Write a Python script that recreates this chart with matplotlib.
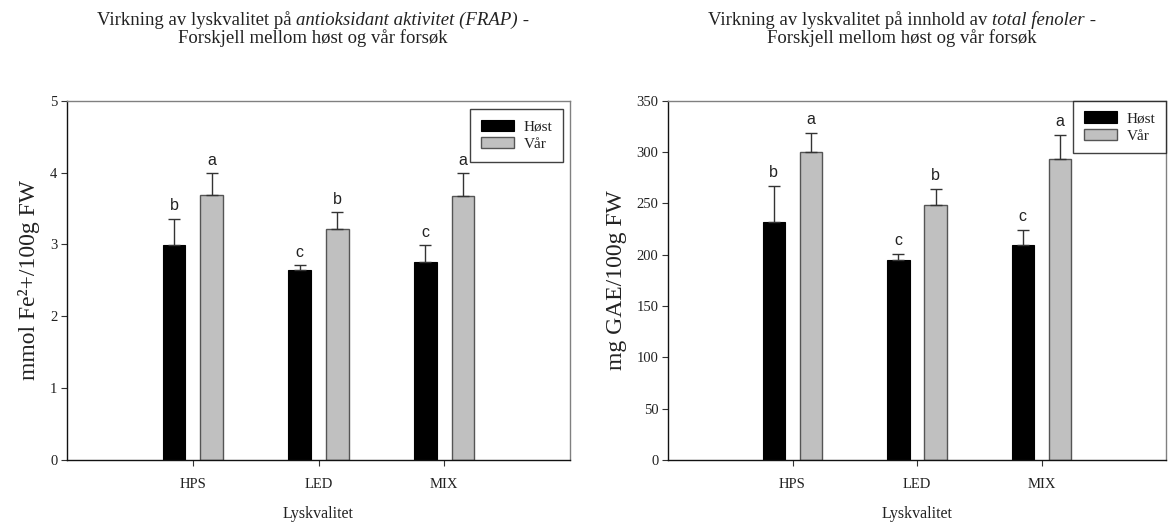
import matplotlib
matplotlib.use("Agg")
import matplotlib.pyplot as plt
import numpy as np

plt.rcParams['font.family'] = ['Liberation Serif', 'DejaVu Serif']

# Treatments (light quality)
categories = ["HPS", "LED", "MIX"]
seasons = ["Høst", "Vår"]

# Antioxidant activity (FRAP), mmol Fe2+/100 g FW
frap_host = [2.99, 2.65, 2.76]
frap_host_err = [0.37, 0.06, 0.23]
frap_var = [3.69, 3.22, 3.68]
frap_var_err = [0.30, 0.23, 0.31]
frap_letters_host = ["b", "c", "c"]
frap_letters_var = ["a", "b", "a"]

# Total phenolics, mg GAE/100 g FW
phen_host = [232, 195, 209]
phen_host_err = [35, 6, 15]
phen_var = [300, 248, 293]
phen_var_err = [19, 16, 24]
phen_letters_host = ["b", "c", "c"]
phen_letters_var = ["a", "b", "a"]

HOST_COLOR = "#000000"
VAR_COLOR = "#c0c0c0"
EDGE = "#555555"
TXT = "#222222"

fig = plt.figure(figsize=(11.7, 5.24), dpi=100)
W, H = 1170, 524


def axes_px(left, right, top, bottom):
    return fig.add_axes([left / W, 1 - bottom / H, (right - left) / W, (bottom - top) / H])


def draw_panel(ax, host, host_err, var, var_err, lh, lv, ylim, yticks, ylabel, legend_anchor):
    x = np.arange(len(categories))
    off, bw = 0.15, 0.18
    b1 = ax.bar(x - off, host, bw, color=HOST_COLOR, edgecolor=HOST_COLOR, linewidth=0.8,
                label=seasons[0], zorder=2)
    b2 = ax.bar(x + off, var, bw, color=VAR_COLOR, edgecolor=EDGE, linewidth=1.0,
                label=seasons[1], zorder=2)
    for xs, vals, errs, letters in ((x - off, host, host_err, lh), (x + off, var, var_err, lv)):
        ax.errorbar(xs, vals, yerr=[np.zeros(len(vals)), errs], fmt="none",
                    ecolor="#333333", elinewidth=1.0, capsize=4, capthick=1.0, zorder=3)
        for xi, v, e, t in zip(xs, vals, errs, letters):
            ax.annotate(t, (xi, v + e), xytext=(0, 4), textcoords="offset points",
                        ha="center", va="bottom", fontsize=11.5, color=TXT,
                        family=["Liberation Sans", "DejaVu Sans"])
    ax.set_xlim(-1, 3)
    ax.set_ylim(*ylim)
    ax.set_xticks(x)
    ax.set_xticklabels(categories)
    ax.set_yticks(yticks)
    ax.tick_params(axis="both", direction="out", length=4, width=0.8,
                   labelsize=10.5, labelcolor=TXT, color="#333333")
    ax.tick_params(axis="x", pad=9)
    ax.tick_params(axis="y", pad=3)
    for s in ("left", "bottom"):
        ax.spines[s].set_color("#111111")
        ax.spines[s].set_linewidth(1.0)
    for s in ("top", "right"):
        ax.spines[s].set_color("#808080")
        ax.spines[s].set_linewidth(1.0)
    ax.set_ylabel(ylabel, fontsize=17, color=TXT, labelpad=7)
    ax.set_xlabel("Lyskvalitet", fontsize=11.5, color=TXT, labelpad=11)
    leg = ax.legend(handles=[b1, b2], loc="upper right", bbox_to_anchor=legend_anchor,
                    fontsize=11, frameon=True, fancybox=False, edgecolor="#111111",
                    handlelength=2.2, handleheight=0.75, labelspacing=0.22,
                    borderpad=0.7, handletextpad=0.6, borderaxespad=0.0)
    leg.get_frame().set_linewidth(1.0)
    for t in leg.get_texts():
        t.set_color(TXT)


ax1 = axes_px(67, 570, 100.7, 460)
draw_panel(ax1, frap_host, frap_host_err, frap_var, frap_var_err,
           frap_letters_host, frap_letters_var, (0, 5), np.arange(0, 6, 1),
           "mmol Fe²+/100g FW", (0.986, 0.977))

ax2 = axes_px(668, 1166, 100.7, 460)
draw_panel(ax2, phen_host, phen_host_err, phen_var, phen_var_err,
           phen_letters_host, phen_letters_var, (0, 350), np.arange(0, 351, 50),
           "mg GAE/100g FW", (1.0, 1.0))


def mixed_line(xc, y, parts, size=13.5):
    """Draw a centred line made of (text, italic) pieces."""
    renderer = fig.canvas.get_renderer()
    objs = []
    for txt, ital in parts:
        t = fig.text(0, y, txt, fontsize=size, color=TXT, va="baseline", ha="left",
                     style="italic" if ital else "normal")
        objs.append(t)
    widths = [t.get_window_extent(renderer).width for t in objs]
    x = xc - sum(widths) / 2
    for t, w in zip(objs, widths):
        t.set_x(x / W)
        x += w


y1, y2 = 1 - 25 / H, 1 - 43 / H
mixed_line(313, y1, [("Virkning av lyskvalitet på ", False),
                     ("antioksidant aktivitet (FRAP)", True), (" -", False)])
mixed_line(313, y2, [("Forskjell mellom høst og vår forsøk", False)])
mixed_line(902, y1, [("Virkning av lyskvalitet på innhold av ", False),
                     ("total fenoler", True), (" -", False)])
mixed_line(902, y2, [("Forskjell mellom høst og vår forsøk", False)])

fig.savefig("out.png", dpi=100)
